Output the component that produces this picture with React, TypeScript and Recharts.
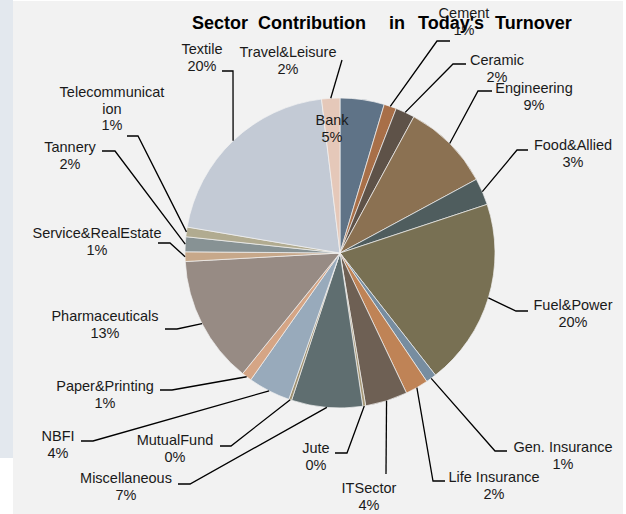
import { PieChart, Pie, Cell } from "recharts";

const sectors = [
  "Bank",
  "Cement",
  "Ceramic",
  "Engineering",
  "Food&Allied",
  "Fuel&Power",
  "Gen. Insurance",
  "Life Insurance",
  "ITSector",
  "Jute",
  "Miscellaneous",
  "MutualFund",
  "NBFI",
  "Paper&Printing",
  "Pharmaceuticals",
  "Service&RealEstate",
  "Tannery",
  "Telecommunication",
  "Textile",
  "Travel&Leisure",
];

// share of turnover
const turnover = [
  4.6, 1.3, 2.0, 9.2, 2.8, 19.5, 1.1, 2.4, 4.4, 0.3, 7.4, 0.3, 4.4, 1.05, 13.3,
  1.0, 1.55, 1.0, 20.4, 1.9,
];

const sliceColors = [
  "#5f7387",
  "#a86f48",
  "#5e5248",
  "#8b7152",
  "#4f5d5e",
  "#787053",
  "#778da0",
  "#bf8356",
  "#6e6054",
  "#a89a78",
  "#5f6e70",
  "#9f9170",
  "#98aabb",
  "#d5a585",
  "#978b84",
  "#c7a88a",
  "#879294",
  "#b1ab90",
  "#c3cad5",
  "#e5c8b9",
];

const titleWords = ["Sector", "Contribution", "in", "Today's", "Turnover"];

const total = turnover.reduce((a, v) => a + v, 0);
const chartData = sectors.map((name, i) => ({ name, value: turnover[i] }));

// hand-placed label boxes (as dragged in the original sheet)
// tx/ty: text centre + first baseline; elbow/end: leader bend and end
type LabelPlace = {
  tx: number;
  ty: number;
  lines?: string[];
  elbow?: [number, number];
  end?: [number, number];
};

const labelPlaces: LabelPlace[] = [
  { tx: 332, ty: 125 },
  { tx: 464, ty: 18, elbow: [437, 41], end: [450, 41] },
  { tx: 497, ty: 65, elbow: [453, 64], end: [466, 64] },
  { tx: 534, ty: 93, elbow: [478, 91], end: [492, 91] },
  { tx: 573, ty: 150, elbow: [517, 150], end: [528, 150] },
  { tx: 573, ty: 310, elbow: [516, 311], end: [528, 311] },
  { tx: 563, ty: 452, elbow: [495, 451], end: [507, 451] },
  { tx: 494, ty: 482, elbow: [433, 481], end: [445, 481] },
  { tx: 369, ty: 493, elbow: [386, 474] },
  { tx: 316, ty: 453, elbow: [347, 453], end: [335, 453] },
  { tx: 126, ty: 483, elbow: [190, 484], end: [178, 484] },
  { tx: 175, ty: 445, elbow: [231, 446], end: [220, 446] },
  { tx: 58, ty: 441, elbow: [93, 441], end: [81, 441] },
  { tx: 105, ty: 391, elbow: [172, 390], end: [160, 390] },
  { tx: 105, ty: 321, elbow: [177, 329], end: [165, 329] },
  { tx: 97, ty: 238, elbow: [170, 243], end: [158, 243] },
  { tx: 70, ty: 152, elbow: [115, 151], end: [102, 151] },
  {
    tx: 112,
    ty: 97,
    lines: ["Telecommunicat", "ion"],
    elbow: [138, 136],
    end: [127, 136],
  },
  { tx: 202, ty: 54, elbow: [233, 71], end: [222, 71] },
  { tx: 288, ty: 57, elbow: [342, 60] },
];

// word starts of the title (its spacing is uneven in the original)
const titleX = [192, 258, 389, 418, 495];

const RADIAN = Math.PI / 180;
const FONT = "'Liberation Sans', Arial, sans-serif";

function renderLabel(props: any) {
  const { cx, cy, midAngle, outerRadius, index } = props;
  const place = labelPlaces[index];
  const pct = `${Math.round((turnover[index] / total) * 100)}%`;
  const lines = [...(place.lines ?? [sectors[index]]), pct];

  let leader = null;
  if (place.elbow) {
    const sx = cx + outerRadius * Math.cos(-midAngle * RADIAN);
    const sy = cy + outerRadius * Math.sin(-midAngle * RADIAN);
    const pts = [[sx, sy], place.elbow];
    if (place.end) pts.push(place.end);
    leader = (
      <polyline
        points={pts.map((p) => p.join(",")).join(" ")}
        fill="none"
        stroke="#000"
        strokeWidth={1.3}
      />
    );
  }

  return (
    <g key={`lbl-${index}`}>
      {leader}
      <text
        x={place.tx}
        y={place.ty}
        textAnchor="middle"
        fill="#1a1a1a"
        fontSize={14.5}
        fontFamily={FONT}
      >
        {lines.map((l, i) => (
          <tspan key={i} x={place.tx} dy={i === 0 ? 0 : 16.6}>
            {l}
          </tspan>
        ))}
      </text>
    </g>
  );
}

export default function App() {
  return (
    <div
      style={{
        position: "relative",
        width: 626,
        height: 514,
        background: "#ffffff",
        overflow: "hidden",
      }}
    >
      <style>{`body{margin:0}`}</style>
      <div
        style={{
          position: "absolute",
          left: 0,
          top: 0,
          width: 13,
          height: 458,
          background: "#e3e8ee",
        }}
      />
      <div
        style={{
          position: "absolute",
          left: 13,
          top: 1,
          width: 610,
          height: 513,
          background: "#f2f2f2",
        }}
      />
      <div style={{ position: "absolute", left: 0, top: 0 }}>
        <PieChart
          width={626}
          height={514}
          margin={{ top: 0, right: 0, bottom: 0, left: 0 }}
        >
          <text
            y={29}
            fontSize={18}
            fontWeight="bold"
            fill="#000"
            fontFamily={FONT}
          >
            {titleWords.map((w, i) => (
              <tspan key={w} x={titleX[i]}>
                {w}
              </tspan>
            ))}
          </text>
          <Pie
            data={chartData}
            dataKey="value"
            nameKey="name"
            cx={340}
            cy={253}
            outerRadius={155}
            startAngle={90}
            endAngle={-270}
            stroke="#f2f2f2"
            strokeWidth={0.7}
            label={renderLabel}
            labelLine={false}
            isAnimationActive={false}
          >
            {chartData.map((d, i) => (
              <Cell key={d.name} fill={sliceColors[i]} />
            ))}
          </Pie>
        </PieChart>
      </div>
    </div>
  );
}
